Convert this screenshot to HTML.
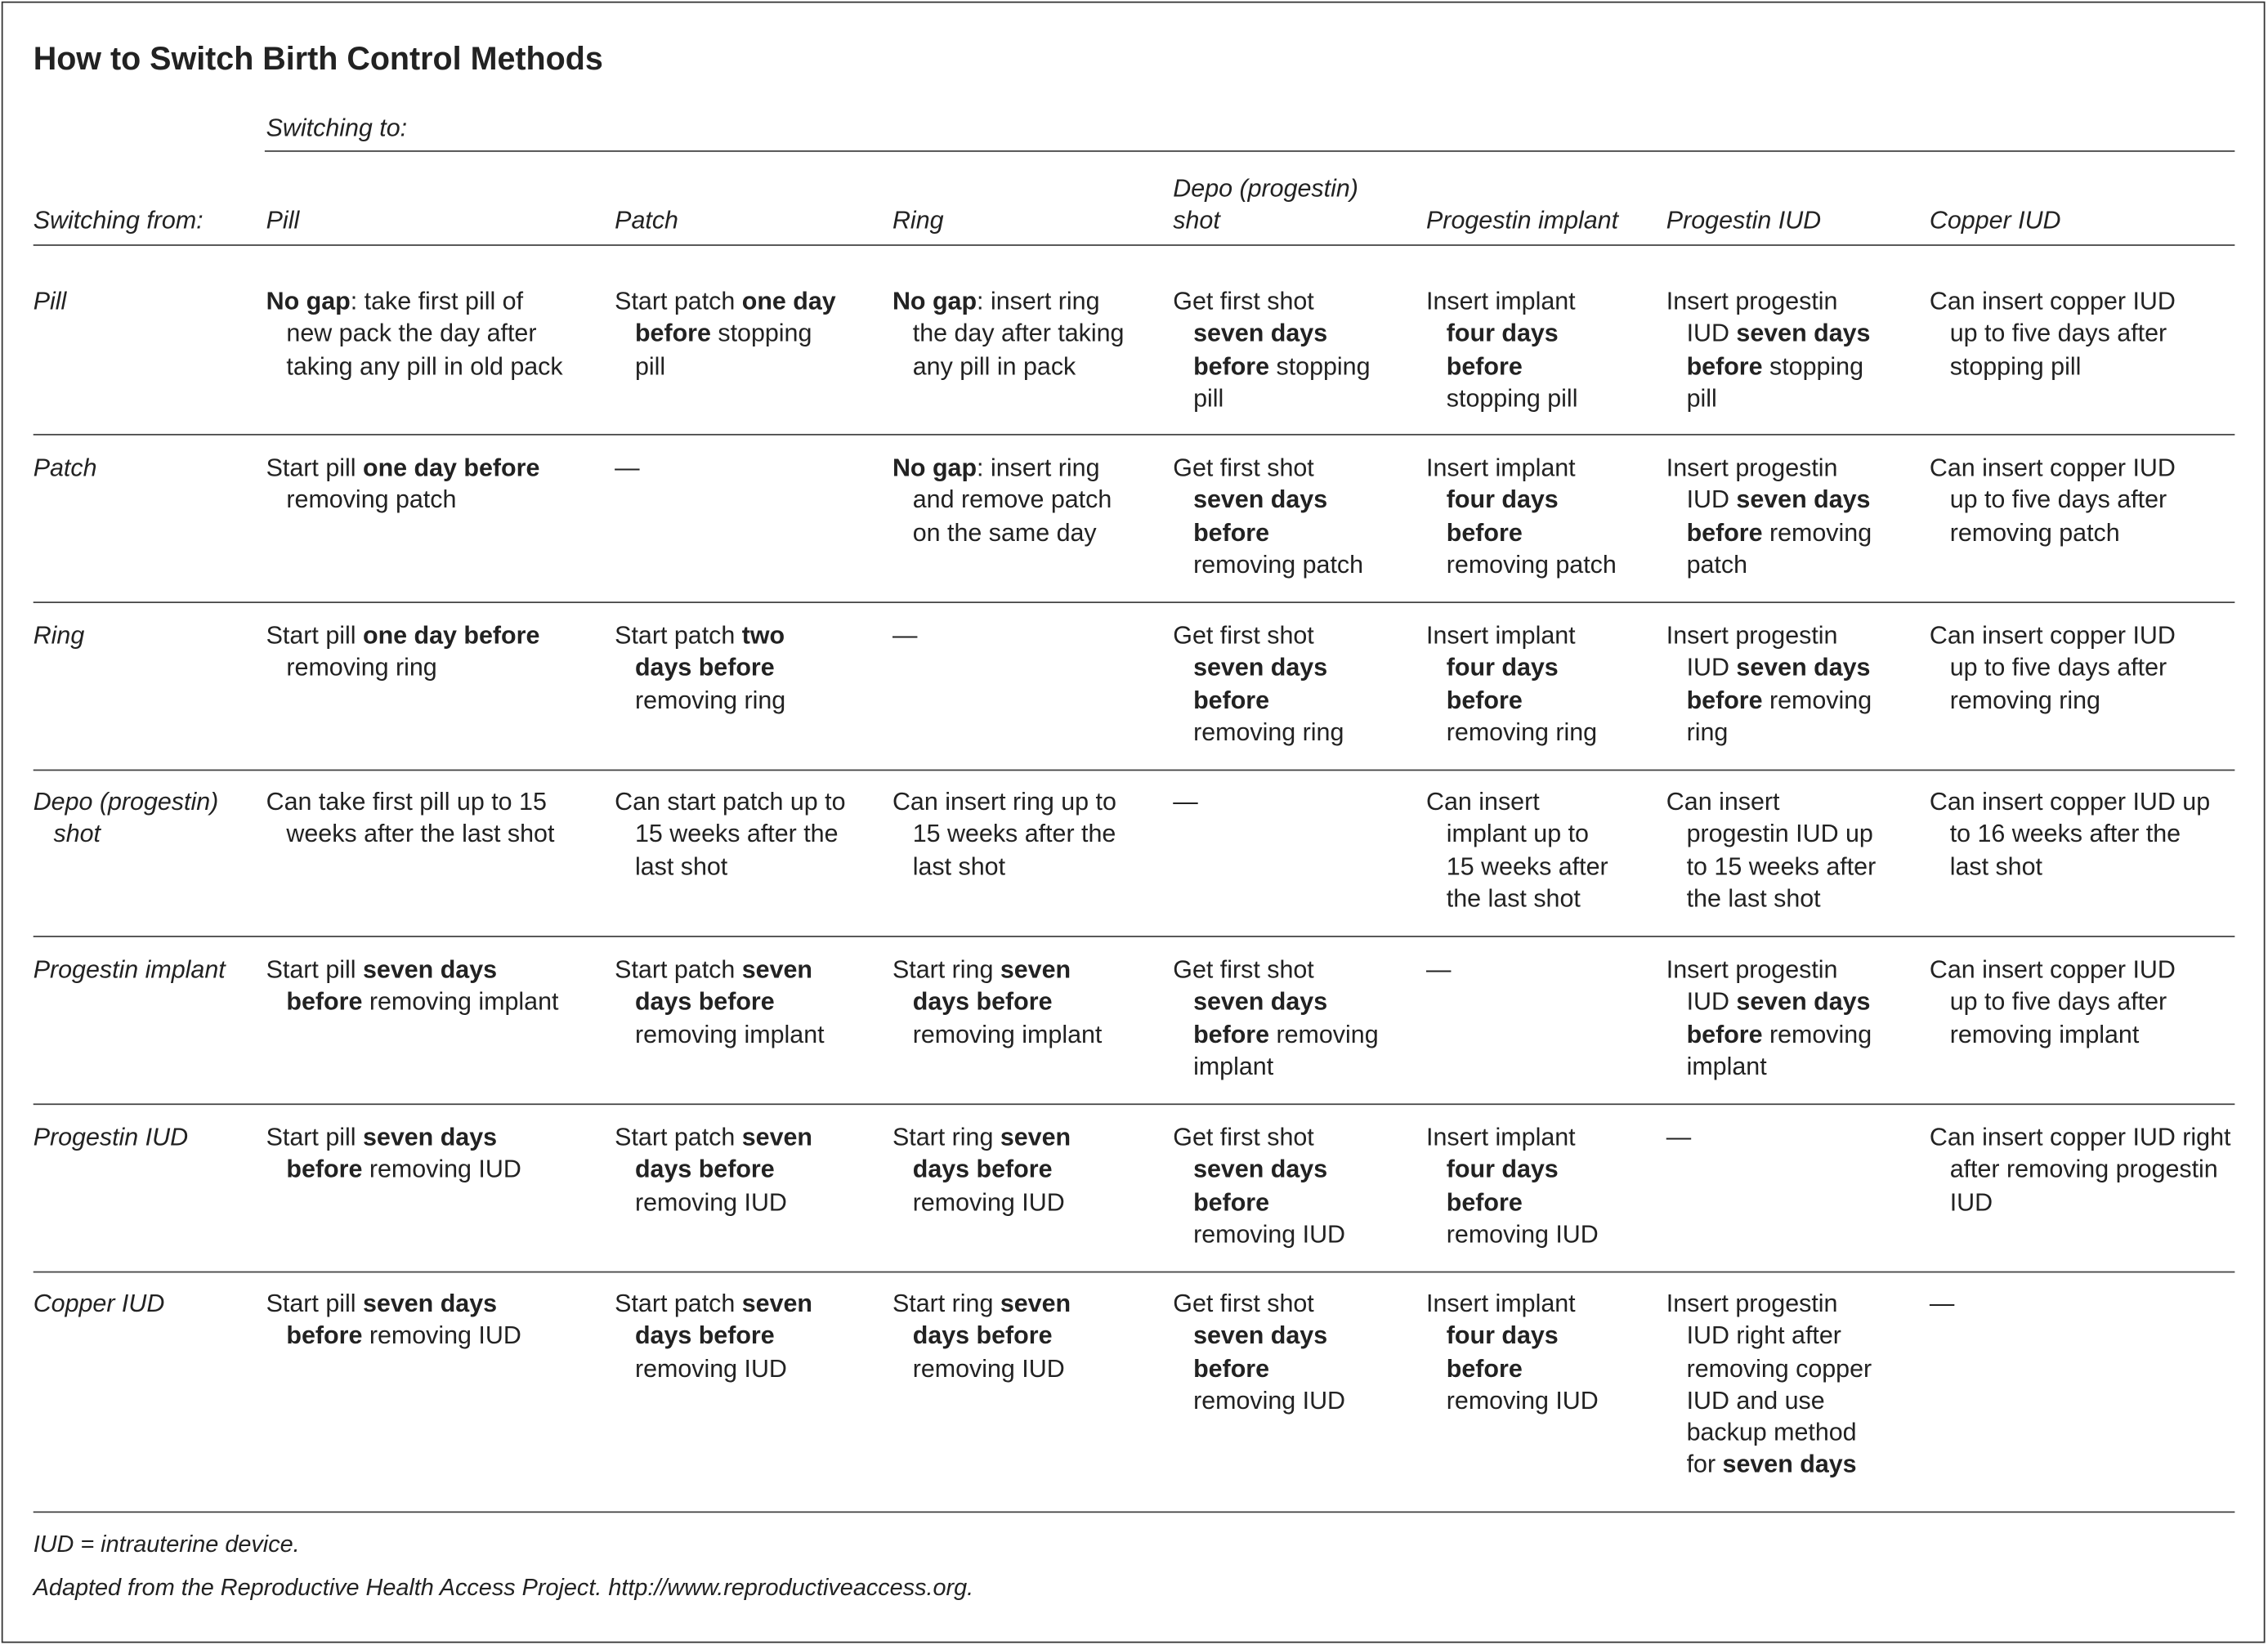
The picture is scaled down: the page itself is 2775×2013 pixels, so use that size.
<!DOCTYPE html>
<html><head><meta charset="utf-8"><style>
html,body{margin:0;padding:0;background:#fff;}
#wrap{width:2775px;height:2013px;overflow:hidden;position:relative;}
#s{position:absolute;left:0;top:0;width:1568px;height:1137.4px;transform:scale(1.7698);transform-origin:0 0;font-family:"Liberation Sans",sans-serif;color:#222;font-size:17.2px;}
.box{position:absolute;left:1px;top:1px;width:1563px;height:1133px;border:1.3px solid #333;}
.c{position:absolute;line-height:22.3px;white-space:nowrap;padding-left:14px;text-indent:-14px;}
.i{font-style:italic;}
b{font-weight:bold;}
.h{position:absolute;height:1.2px;background:#444;}
.t{position:absolute;left:23px;top:28px;font-size:22.3px;font-weight:bold;}
#s>.c{margin-top:0;}
</style></head><body><div id="wrap"><div id="s">
<div class="box"></div>
<div class="t">How to Switch Birth Control Methods</div>
<div class="c i" style="left:184px;top:77px">Switching to:</div>
<div class="h" style="left:183px;width:1362px;top:103.5px"></div>
<div class="c i" style="left:23px;top:141px">Switching from:</div>
<div class="c i" style="left:184px;top:141px">Pill</div>
<div class="c i" style="left:425px;top:141px">Patch</div>
<div class="c i" style="left:617px;top:141px">Ring</div>
<div class="c i" style="left:811px;top:119px;padding-left:0;text-indent:0">Depo (progestin)<br>shot</div>
<div class="c i" style="left:986px;top:141px">Progestin implant</div>
<div class="c i" style="left:1152px;top:141px">Progestin IUD</div>
<div class="c i" style="left:1334px;top:141px">Copper IUD</div>
<div class="h" style="left:23px;width:1522px;top:168.5px"></div>

<div class="c i" style="left:23px;top:197px">Pill</div>
<div class="c" style="left:184px;top:197px"><b>No gap</b>: take first pill of<br>new pack the day after<br>taking any pill in old pack</div>
<div class="c" style="left:425px;top:197px">Start patch <b>one day</b><br><b>before</b> stopping<br>pill</div>
<div class="c" style="left:617px;top:197px"><b>No gap</b>: insert ring<br>the day after taking<br>any pill in pack</div>
<div class="c" style="left:811px;top:197px">Get first shot<br><b>seven days</b><br><b>before</b> stopping<br>pill</div>
<div class="c" style="left:986px;top:197px">Insert implant<br><b>four days</b><br><b>before</b><br>stopping pill</div>
<div class="c" style="left:1152px;top:197px">Insert progestin<br>IUD <b>seven days</b><br><b>before</b> stopping<br>pill</div>
<div class="c" style="left:1334px;top:197px">Can insert copper IUD<br>up to five days after<br>stopping pill</div>
<div class="h" style="left:23px;width:1522px;top:300px"></div>

<div class="c i" style="left:23px;top:312px">Patch</div>
<div class="c" style="left:184px;top:312px">Start pill <b>one day before</b><br>removing patch</div>
<div class="c" style="left:425px;top:312px">—</div>
<div class="c" style="left:617px;top:312px"><b>No gap</b>: insert ring<br>and remove patch<br>on the same day</div>
<div class="c" style="left:811px;top:312px">Get first shot<br><b>seven days</b><br><b>before</b><br>removing patch</div>
<div class="c" style="left:986px;top:312px">Insert implant<br><b>four days</b><br><b>before</b><br>removing patch</div>
<div class="c" style="left:1152px;top:312px">Insert progestin<br>IUD <b>seven days</b><br><b>before</b> removing<br>patch</div>
<div class="c" style="left:1334px;top:312px">Can insert copper IUD<br>up to five days after<br>removing patch</div>
<div class="h" style="left:23px;width:1522px;top:416px"></div>

<div class="c i" style="left:23px;top:428px">Ring</div>
<div class="c" style="left:184px;top:428px">Start pill <b>one day before</b><br>removing ring</div>
<div class="c" style="left:425px;top:428px">Start patch <b>two</b><br><b>days before</b><br>removing ring</div>
<div class="c" style="left:617px;top:428px">—</div>
<div class="c" style="left:811px;top:428px">Get first shot<br><b>seven days</b><br><b>before</b><br>removing ring</div>
<div class="c" style="left:986px;top:428px">Insert implant<br><b>four days</b><br><b>before</b><br>removing ring</div>
<div class="c" style="left:1152px;top:428px">Insert progestin<br>IUD <b>seven days</b><br><b>before</b> removing<br>ring</div>
<div class="c" style="left:1334px;top:428px">Can insert copper IUD<br>up to five days after<br>removing ring</div>
<div class="h" style="left:23px;width:1522px;top:532px"></div>

<div class="c i" style="left:23px;top:543px">Depo (progestin)<br>shot</div>
<div class="c" style="left:184px;top:543px">Can take first pill up to 15<br>weeks after the last shot</div>
<div class="c" style="left:425px;top:543px">Can start patch up to<br>15 weeks after the<br>last shot</div>
<div class="c" style="left:617px;top:543px">Can insert ring up to<br>15 weeks after the<br>last shot</div>
<div class="c" style="left:811px;top:543px">—</div>
<div class="c" style="left:986px;top:543px">Can insert<br>implant up to<br>15 weeks after<br>the last shot</div>
<div class="c" style="left:1152px;top:543px">Can insert<br>progestin IUD up<br>to 15 weeks after<br>the last shot</div>
<div class="c" style="left:1334px;top:543px">Can insert copper IUD up<br>to 16 weeks after the<br>last shot</div>
<div class="h" style="left:23px;width:1522px;top:647px"></div>

<div class="c i" style="left:23px;top:659px">Progestin implant</div>
<div class="c" style="left:184px;top:659px">Start pill <b>seven days</b><br><b>before</b> removing implant</div>
<div class="c" style="left:425px;top:659px">Start patch <b>seven</b><br><b>days before</b><br>removing implant</div>
<div class="c" style="left:617px;top:659px">Start ring <b>seven</b><br><b>days before</b><br>removing implant</div>
<div class="c" style="left:811px;top:659px">Get first shot<br><b>seven days</b><br><b>before</b> removing<br>implant</div>
<div class="c" style="left:986px;top:659px">—</div>
<div class="c" style="left:1152px;top:659px">Insert progestin<br>IUD <b>seven days</b><br><b>before</b> removing<br>implant</div>
<div class="c" style="left:1334px;top:659px">Can insert copper IUD<br>up to five days after<br>removing implant</div>
<div class="h" style="left:23px;width:1522px;top:763px"></div>

<div class="c i" style="left:23px;top:775px">Progestin IUD</div>
<div class="c" style="left:184px;top:775px">Start pill <b>seven days</b><br><b>before</b> removing IUD</div>
<div class="c" style="left:425px;top:775px">Start patch <b>seven</b><br><b>days before</b><br>removing IUD</div>
<div class="c" style="left:617px;top:775px">Start ring <b>seven</b><br><b>days before</b><br>removing IUD</div>
<div class="c" style="left:811px;top:775px">Get first shot<br><b>seven days</b><br><b>before</b><br>removing IUD</div>
<div class="c" style="left:986px;top:775px">Insert implant<br><b>four days</b><br><b>before</b><br>removing IUD</div>
<div class="c" style="left:1152px;top:775px">—</div>
<div class="c" style="left:1334px;top:775px">Can insert copper IUD right<br>after removing progestin<br>IUD</div>
<div class="h" style="left:23px;width:1522px;top:879px"></div>

<div class="c i" style="left:23px;top:890px">Copper IUD</div>
<div class="c" style="left:184px;top:890px">Start pill <b>seven days</b><br><b>before</b> removing IUD</div>
<div class="c" style="left:425px;top:890px">Start patch <b>seven</b><br><b>days before</b><br>removing IUD</div>
<div class="c" style="left:617px;top:890px">Start ring <b>seven</b><br><b>days before</b><br>removing IUD</div>
<div class="c" style="left:811px;top:890px">Get first shot<br><b>seven days</b><br><b>before</b><br>removing IUD</div>
<div class="c" style="left:986px;top:890px">Insert implant<br><b>four days</b><br><b>before</b><br>removing IUD</div>
<div class="c" style="left:1152px;top:890px">Insert progestin<br>IUD right after<br>removing copper<br>IUD and use<br>backup method<br>for <b>seven days</b></div>
<div class="c" style="left:1334px;top:890px">—</div>
<div class="h" style="left:23px;width:1522px;top:1045px"></div>

<div class="c i" style="left:23px;top:1057px;font-size:16.3px">IUD = intrauterine device.</div>
<div class="c i" style="left:23px;top:1087px;font-size:16.3px">Adapted from the Reproductive Health Access Project. http://www.reproductiveaccess.org.</div>
</div></div></body></html>
